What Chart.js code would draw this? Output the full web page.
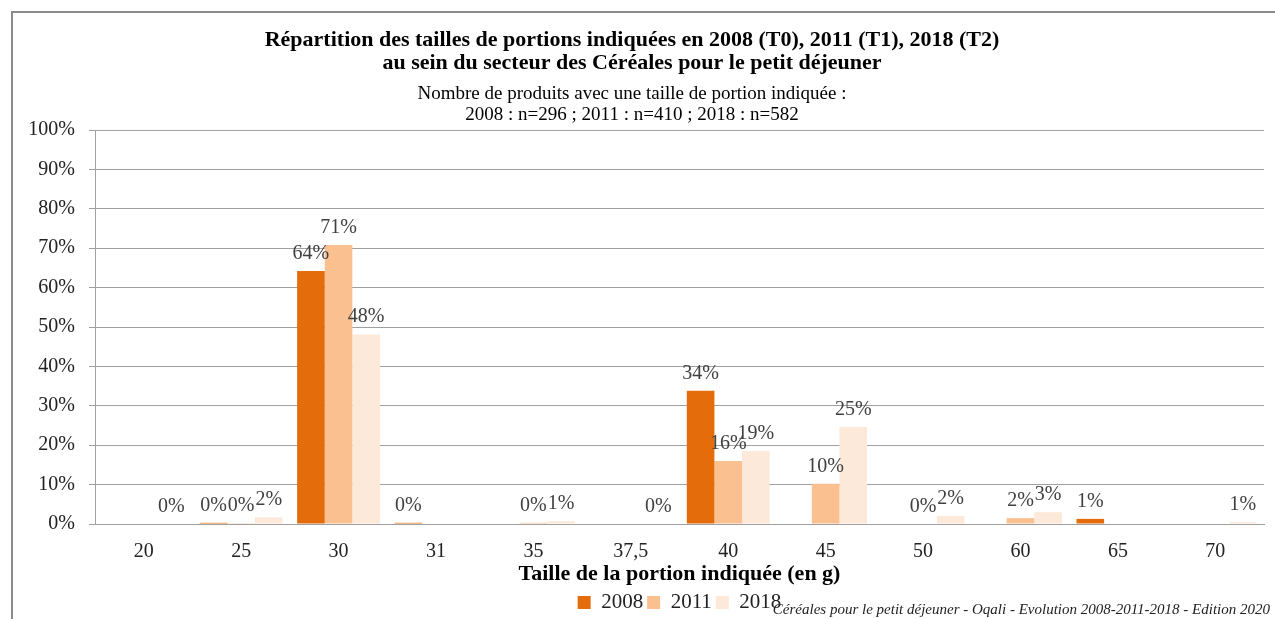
<!DOCTYPE html>
<html lang="fr">
<head>
    <meta charset="UTF-8">
    <title>Répartition des tailles de portions - Céréales pour le petit déjeuner</title>
    <script src="https://cdn.jsdelivr.net/npm/chart.js"></script>
    <style>
        body {
            margin: 0;
            padding: 0;
            background: #ffffff;
            overflow: hidden;
        }
        .frame {
            position: absolute;
            left: 11px;
            top: 11px;
            width: 1264px;
            height: 608px;
            border-top: 2px solid #8c8c8c;
            border-left: 2px solid #8c8c8c;
            box-sizing: border-box;
        }
        .chart-box {
            position: absolute;
            left: 0;
            top: 0;
            width: 1275px;
            height: 619px;
        }
        .source {
            position: absolute;
            right: 5px;
            bottom: 1px;
            font-family: "Liberation Serif", serif;
            font-style: italic;
            font-size: 15px;
            color: #222;
        }
    </style>
</head>
<body>
    <div class="frame"></div>
    <div class="chart-box">
        <canvas id="portionChart"></canvas>
    </div>
    <div class="source">Céréales pour le petit déjeuner - Oqali - Evolution 2008-2011-2018 - Edition 2020</div>

    <script>
        // portion sizes (g)
        const portions = ["20", "25", "30", "31", "35", "37,5", "40", "45", "50", "60", "65", "70"];
        // share of products (%) per year, null = no label shown
        const values2008 = [null, 0.3, 64.2, 0.3, null, null, 33.8, null, null, null, 1.3, null];
        const values2011 = [null, 0.2, 70.8, null, 0.3, null, 16.0, 10.2, 0.0, 1.5, null, null];
        const values2018 = [0.0, 1.7, 48.1, null, 0.7, 0.0, 18.5, 24.6, 2.0, 3.0, null, 0.5];
        const yTicks = [0, 10, 20, 30, 40, 50, 60, 70, 80, 90, 100];

        const serif = '"Liberation Serif", serif';

        // percentage labels above each bar
        const valueLabels = {
            id: 'valueLabels',
            afterDatasetsDraw(chart) {
                const ctx = chart.ctx;
                ctx.save();
                ctx.font = '20px ' + serif;
                ctx.fillStyle = '#404040';
                ctx.textAlign = 'center';
                ctx.textBaseline = 'alphabetic';
                chart.data.datasets.forEach((ds, i) => {
                    chart.getDatasetMeta(i).data.forEach((bar, j) => {
                        const v = ds.data[j];
                        if (v === null) return;
                        ctx.fillText(Math.round(v) + '%', bar.x, bar.y - 12);
                    });
                });
                ctx.restore();
            }
        };

        const ctx = document.getElementById('portionChart').getContext('2d');
        new Chart(ctx, {
            type: 'bar',
            data: {
                labels: portions,
                datasets: [
                    { label: '2008', data: values2008, backgroundColor: '#E46C0A' },
                    { label: '2011', data: values2011, backgroundColor: '#FAC090' },
                    { label: '2018', data: values2018, backgroundColor: '#FDE9D9' }
                ]
            },
            options: {
                responsive: true,
                maintainAspectRatio: false,
                animation: false,
                datasets: {
                    bar: { categoryPercentage: 0.85, barPercentage: 1.0 }
                },
                layout: {
                    padding: { top: 29, right: 11, bottom: -4, left: 0 }
                },
                plugins: {
                    title: {
                        display: true,
                        text: ['Répartition des tailles de portions indiquées en 2008 (T0), 2011 (T1), 2018 (T2)',
                               'au sein du secteur des Céréales pour le petit déjeuner'],
                        color: '#000',
                        font: { family: serif, size: 22, weight: 'bold', lineHeight: 1.05 },
                        padding: { top: 0, bottom: 8 }
                    },
                    subtitle: {
                        display: true,
                        text: ['Nombre de produits avec une taille de portion indiquée :',
                               '2008 : n=296 ; 2011 : n=410 ; 2018 : n=582'],
                        color: '#000',
                        font: { family: serif, size: 19, lineHeight: 1.1 },
                        padding: { top: 0, bottom: 5 }
                    },
                    legend: {
                        position: 'bottom',
                        fullSize: false,
                        labels: {
                            color: '#222',
                            font: { family: serif, size: 21, lineHeight: 1.0 },
                            boxWidth: 13,
                            boxHeight: 13,
                            padding: 4
                        }
                    },
                    tooltip: { enabled: false }
                },
                scales: {
                    x: {
                        grid: { display: false },
                        border: { color: '#a0a0a0', width: 1 },
                        afterFit(axis) {
                            axis.height = 64;
                        },
                        ticks: {
                            color: '#222',
                            font: { family: serif, size: 20 },
                            padding: 8
                        },
                        title: {
                            display: true,
                            text: 'Taille de la portion indiquée (en g)',
                            color: '#000',
                            font: { family: serif, size: 22, weight: 'bold' },
                            padding: { top: 0, bottom: 0 }
                        }
                    },
                    y: {
                        min: 0,
                        max: 100,
                        afterBuildTicks(axis) {
                            axis.ticks = yTicks.map(v => ({ value: v }));
                        },
                        afterFit(axis) {
                            axis.width = 95;
                        },
                        grid: { color: '#a0a0a0', tickLength: 6 },
                        border: { color: '#a0a0a0', width: 1 },
                        ticks: {
                            color: '#222',
                            font: { family: serif, size: 20 },
                            padding: 14,
                            callback: v => v + '%'
                        }
                    }
                }
            },
            plugins: [valueLabels]
        });
    </script>
</body>
</html>
